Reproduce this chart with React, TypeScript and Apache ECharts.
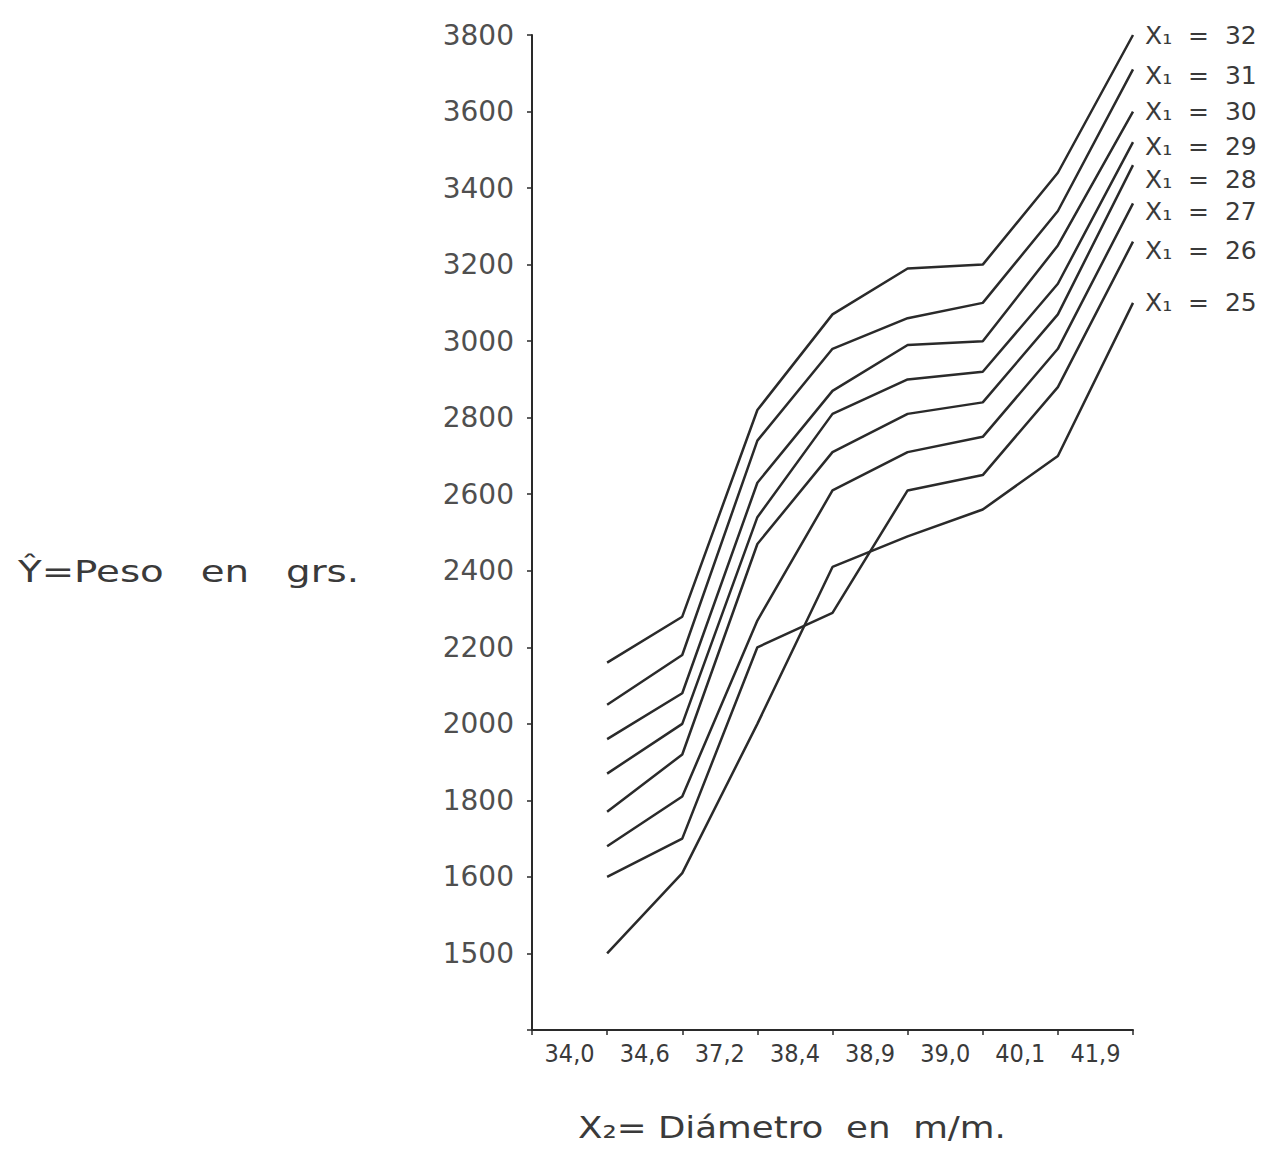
import React, { useEffect, useRef } from "react";
import * as echarts from "echarts";

// X2 = diámetro (category labels, one per band)
const xLabels = ["34,0", "34,6", "37,2", "38,4", "38,9", "39,0", "40,1", "41,9"];

// X1 levels, top line to bottom line
const x1Levels = [32, 31, 30, 29, 28, 27, 26, 25];

// Ŷ = peso en grs. (on the linear scale of the axis)
const peso32 = [2160, 2280, 2820, 3070, 3190, 3200, 3440, 3800];
const peso31 = [2050, 2180, 2740, 2980, 3060, 3100, 3340, 3710];
const peso30 = [1960, 2080, 2630, 2870, 2990, 3000, 3250, 3600];
const peso29 = [1870, 2000, 2540, 2810, 2900, 2920, 3150, 3520];
const peso28 = [1770, 1920, 2470, 2710, 2810, 2840, 3070, 3460];
const peso27 = [1680, 1810, 2270, 2610, 2710, 2750, 2980, 3360];
const peso26 = [1600, 1700, 2200, 2290, 2610, 2650, 2880, 3260];
const peso25 = [1400, 1610, 2000, 2410, 2490, 2560, 2700, 3100];

// y tick labels as printed (the original marks the 1400 step as "1500")
const yTickLabels = ["", "1500", "1600", "1800", "2000", "2200", "2400", "2600", "2800", "3000", "3200", "3400", "3600", "3800"];

const yTitle = "Ŷ=Peso   en   grs.";
const xTitle = "X₂= Diámetro  en  m/m.";

// vertical nudges of the end labels, as laid out in the original
const labelNudge = [0, 6, 0, 4, 14, 8, 9, 0];

export default function App() {
  const ref = useRef<HTMLDivElement>(null);
  useEffect(() => {
    if (!ref.current) return;
    const chart = echarts.init(ref.current, undefined, { renderer: "svg" });
    const all = [peso32, peso31, peso30, peso29, peso28, peso27, peso26, peso25];
    const lineColor = "#2a2a2a";
    const textColor = "#3a3a3a";
    chart.setOption({
      animation: false,
      backgroundColor: "#ffffff",
      grid: { left: 532, right: 135, top: 35, bottom: 127 },
      xAxis: [
        {
          type: "category",
          data: xLabels,
          boundaryGap: true,
          axisLine: { lineStyle: { color: lineColor, width: 2 } },
          axisTick: { show: true, length: 5, lineStyle: { color: lineColor, width: 1.5 } },
          axisLabel: {
            color: textColor,
            fontSize: 25,
            fontFamily: "'DejaVu Sans Condensed', 'DejaVu Sans', sans-serif",
            margin: 11,
          },
          splitLine: { show: false },
        },
        { type: "value", min: 0, max: 8, show: false },
      ],
      yAxis: {
        type: "value",
        min: 1200,
        max: 3800,
        interval: 200,
        axisLine: { show: true, lineStyle: { color: lineColor, width: 2 } },
        axisTick: { show: true, length: 5, lineStyle: { color: lineColor, width: 1.5 } },
        splitLine: { show: false },
        axisLabel: {
          color: "#4f4f4f",
          fontSize: 28,
          fontFamily: "'DejaVu Sans', sans-serif",
          margin: 18,
          formatter: (v: number) => yTickLabels[Math.round((v - 1200) / 200)] ?? "",
        },
      },
      series: x1Levels.map((lvl, i) => ({
        type: "line",
        xAxisIndex: 1,
        data: all[i].map((v, j) => [j + 1, v]),
        symbol: "none",
        lineStyle: { color: lineColor, width: 2.5 },
        endLabel: {
          show: true,
          formatter: `X₁  =  ${lvl}`,
          color: textColor,
          fontSize: 25,
          fontFamily: "'DejaVu Sans', sans-serif",
          distance: 12,
          offset: [0, labelNudge[i]],
        },
      })),
      graphic: [
        {
          type: "text",
          left: 18,
          top: 555,
          scaleX: 1.25,
          style: {
            text: yTitle,
            fontSize: 31,
            fill: textColor,
            fontFamily: "'DejaVu Sans', sans-serif",
          },
        },
        {
          type: "text",
          left: 578,
          top: 1112,
          scaleX: 1.15,
          style: {
            text: xTitle,
            fontSize: 31,
            fill: textColor,
            fontFamily: "'DejaVu Sans', sans-serif",
          },
        },
      ],
    });
    return () => chart.dispose();
  }, []);
  return (
    <div
      ref={ref}
      style={{ position: "fixed", left: 0, top: 0, width: 1268, height: 1157, background: "#fff" }}
    />
  );
}
